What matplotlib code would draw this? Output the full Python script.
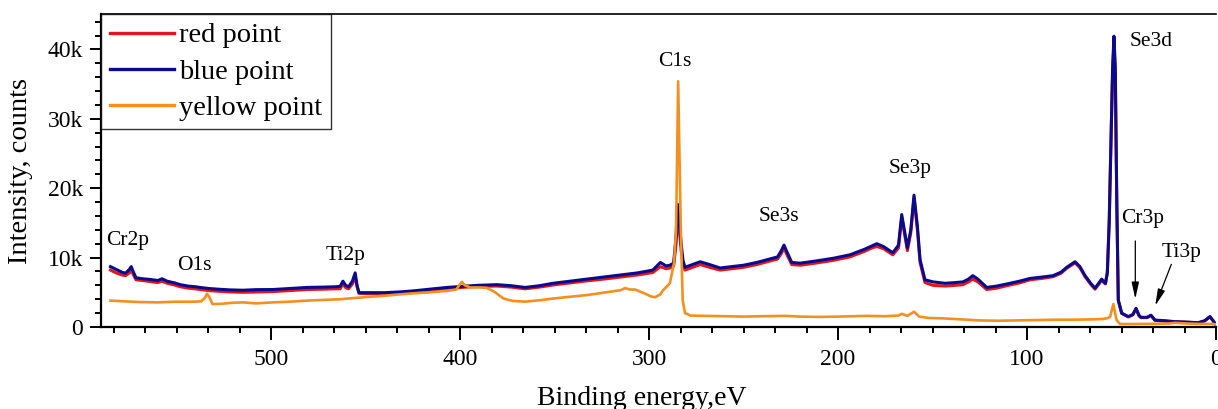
import numpy as np
import matplotlib
matplotlib.use("Agg")
import matplotlib.pyplot as plt
from matplotlib.ticker import MultipleLocator, FuncFormatter

plt.rcParams['font.family'] = ['Liberation Serif', 'DejaVu Serif']

# survey spectra: binding energy (eV) and intensity (counts)
energy_rb = [585, 582, 579, 577, 575, 574, 573, 571.5, 568, 564, 560, 557.7, 555, 551, 548,
             544, 540, 537.6, 533, 528, 522, 515, 508, 499, 490, 481, 472, 466, 463.5, 462,
             460.5, 459, 457, 455.5, 454.5, 453.5, 448, 440, 432, 425, 416, 407, 399, 391,
             380.5, 373, 365.6, 358, 350.8, 342, 332.8, 324, 315, 306, 298, 294, 291, 289,
             287, 285.7, 285, 284, 283, 282, 281, 278, 273, 268, 262.4, 256, 250, 243, 236,
             232, 230, 228.6, 227, 224.5, 220, 212, 202.6, 193.7, 186, 182, 179.5, 176, 171,
             168, 166.3, 163.3, 161.5, 159.8, 158, 156.6, 154, 149.7, 143.4, 138, 133.9, 131,
             128.7, 126, 121.3, 116, 110.7, 104, 98.4, 92, 86.2, 82, 79, 74.6, 72, 69.3, 66,
             64, 60.5, 58.5, 57.5, 56.5, 55.7, 54.7, 54.0, 53.3, 52.5, 51.7, 49.9, 46.4, 44,
             42.3, 40.8, 39.7, 36.5, 34.4, 32.3, 27, 21.7, 15, 9.4, 6, 3.2, 1.5, 0.5]

blue_counts = [8700, 8300, 7900, 7750, 8300, 8700, 8000, 7100, 6950, 6850, 6700, 6950, 6600, 6350, 6100,
               5900, 5800, 5700, 5550, 5450, 5350, 5300, 5380, 5400, 5550, 5700, 5750, 5800, 5850, 6600,
               6000, 5800, 6600, 7800, 6000, 4950, 4950, 4950, 5050, 5200, 5450, 5700, 5850, 6000,
               6100, 5950, 5700, 5950, 6300, 6600, 6900, 7200, 7500, 7800, 8200, 9300, 8800, 8900,
               9200, 13000, 17700, 15000, 12000, 9500, 8600, 8900, 9400, 9000, 8500, 8700, 8900, 9300, 9800,
               10100, 11000, 11800, 10800, 9300, 9200, 9500, 9900, 10400, 11200, 11700, 12000, 11600, 10700,
               11800, 16200, 11400, 14000, 19000, 14500, 9700, 6800, 6500, 6300, 6400, 6500, 6900,
               7400, 6900, 5700, 5900, 6200, 6600, 7000, 7200, 7400, 7900, 8600, 9400, 8700, 7400, 6200,
               5600, 6900, 6300, 7800, 15000, 25000, 37500, 41900, 37500, 18300, 3900, 2000, 1500, 1800,
               2700, 1700, 1400, 1400, 1700, 1000, 900, 770, 700, 620, 900, 1500, 900, 500]

red_counts = [8200, 7800, 7500, 7400, 7800, 8200, 7600, 6800, 6700, 6550, 6400, 6600, 6300, 6050, 5800,
              5600, 5500, 5400, 5250, 5150, 5050, 5000, 5050, 5100, 5250, 5400, 5450, 5500, 5500, 6200,
              5650, 5500, 6200, 7200, 5800, 4850, 4800, 4800, 4900, 5050, 5300, 5550, 5700, 5850,
              5900, 5750, 5500, 5750, 6050, 6350, 6650, 6900, 7200, 7500, 7850, 8700, 8400, 8500,
              8800, 12000, 16500, 14000, 11000, 9000, 8200, 8500, 9000, 8600, 8200, 8400, 8600, 9000, 9500,
              9800, 10600, 11400, 10400, 9000, 8900, 9200, 9600, 10100, 10900, 11400, 11600, 11300, 10400,
              11400, 15800, 11000, 13600, 18600, 14000, 9300, 6400, 6000, 5900, 6000, 6100, 6500,
              6900, 6500, 5400, 5600, 5950, 6350, 6800, 7000, 7250, 7750, 8450, 9250, 8550, 7250, 6050,
              5450, 6700, 6200, 7900, 15500, 25500, 37000, 40800, 36500, 17500, 3800, 1950, 1450, 1750,
              2600, 1650, 1350, 1350, 1650, 950, 850, 750, 680, 600, 880, 1450, 880, 480]

energy_y = [585, 578, 570, 560, 550, 540, 537, 535, 533.9, 532.5, 531, 526, 520, 515, 508, 499, 490,
            481, 472, 463.5, 455, 448, 440, 432, 425, 416, 407, 402, 400, 399, 397.5, 394.7, 390, 386,
            382, 377, 372, 365.6, 358, 350.8, 342, 332.8, 324, 315, 312.7, 310, 307.4, 302, 299, 296.8,
            294, 292.6, 290, 289, 286.8, 285.7, 284.6, 283.2, 282.2, 281, 278, 270, 260, 250, 240, 228,
            220, 210, 200, 185, 175, 168, 166.3, 163.3, 159.8, 157, 152, 145, 135, 125, 115, 105, 95,
            85, 75, 65, 60, 57, 56, 54.3, 53, 52.6, 50.8, 45, 35, 25, 21.7, 15, 9, 3, 0.5]

yellow_counts = [3800, 3700, 3600, 3550, 3650, 3650, 3700, 4200, 4800, 4200, 3300, 3350, 3500, 3550, 3400, 3550, 3650,
                 3800, 3900, 4000, 4200, 4350, 4500, 4700, 4850, 5000, 5200, 5400, 6200, 6500, 6000, 5700, 5700, 5650,
                 5100, 4100, 3750, 3650, 3850, 4100, 4350, 4600, 4950, 5300, 5600, 5400, 5400, 4800, 4400, 4300,
                 4700, 5300, 6000, 6300, 9200, 14000, 35400, 14000, 3900, 2000, 1650, 1600, 1550, 1500, 1550, 1600,
                 1500, 1450, 1500, 1600, 1550, 1650, 1900, 1600, 2200, 1500, 1300, 1250, 1100, 950, 900, 950, 1000,
                 1050, 1050, 1100, 1150, 1300, 1500, 3300, 1500, 1000, 430, 430, 450, 500, 600, 500, 450, 450, 400]

# peak assignments: (label, energy, intensity)
peak_labels = [("Cr2p", 575.7, 12400), ("O1s", 540.5, 8800), ("Ti2p", 460.8, 10300),
               ("C1s", 286.2, 38200), ("Se3s", 231.2, 15900), ("Se3p", 162.0, 22900),
               ("Se3d", 34.4, 41100), ("Cr3p", 38.9, 15700), ("Ti3p", 18.0, 10750)]

fig = plt.figure(figsize=(12.18, 4.09), dpi=100)
ax = fig.add_axes([101 / 1218, 1 - 327 / 409, 1115 / 1218, 313 / 409])

ax.plot(energy_rb, red_counts, color='#e8141c', lw=2.2, label='red point')
ax.plot(energy_rb, blue_counts, color='#0a0a8e', lw=2.2, label='blue point')
ax.plot(energy_y, yellow_counts, color='#f5901e', lw=1.9, label='yellow point')

for name, e, c in peak_labels:
    ax.text(e, c, name, ha='center', va='center', fontsize=15.5)

arrow_kw = dict(arrowstyle='-|>,head_length=1.0,head_width=0.22', color='black', lw=0.9)
ax.annotate('', xy=(42.7, 3650), xytext=(42.7, 12800), arrowprops=arrow_kw)
ax.annotate('', xy=(32.7, 2700), xytext=(23.1, 9400), arrowprops=arrow_kw)

ax.set_xlim(590, 0)
ax.set_ylim(0, 45100)
ax.xaxis.set_major_locator(MultipleLocator(100))
ax.xaxis.set_minor_locator(MultipleLocator(100 / 6))
ax.yaxis.set_major_locator(MultipleLocator(10000))
ax.yaxis.set_minor_locator(MultipleLocator(2000))
ax.yaxis.set_major_formatter(FuncFormatter(lambda v, p: '0' if v == 0 else f'{int(v / 1000)}k'))

ax.tick_params(which='both', direction='out', width=1.4, labelsize=17, top=False, right=False)
ax.tick_params(axis='y', which='major', length=8, pad=5)
ax.tick_params(axis='y', which='minor', length=4.5)
ax.tick_params(axis='x', which='major', length=9.5, pad=6)
ax.tick_params(axis='x', which='minor', length=4.5)

for side in ['left', 'bottom']:
    ax.spines[side].set_linewidth(1.6)
ax.spines['top'].set_linewidth(1.2)
ax.spines['right'].set_visible(False)

ax.set_xlabel('Binding energy,eV', fontsize=20)
ax.xaxis.set_label_coords((642 - 101) / 1115, -0.19)
ax.set_ylabel('Intensity, counts', fontsize=20.5)
ax.yaxis.set_label_coords(-0.061, 0.5)

leg = ax.legend(loc='upper left', fontsize=20.5, frameon=True, fancybox=False,
                borderaxespad=0, borderpad=0.3, labelspacing=0.36, handlelength=2.25,
                handletextpad=0.2)
leg.get_frame().set_edgecolor('black')
leg.get_frame().set_linewidth(1.0)
for line in leg.get_lines():
    line.set_linewidth(2.4)

fig.savefig('out.png', dpi=100)
